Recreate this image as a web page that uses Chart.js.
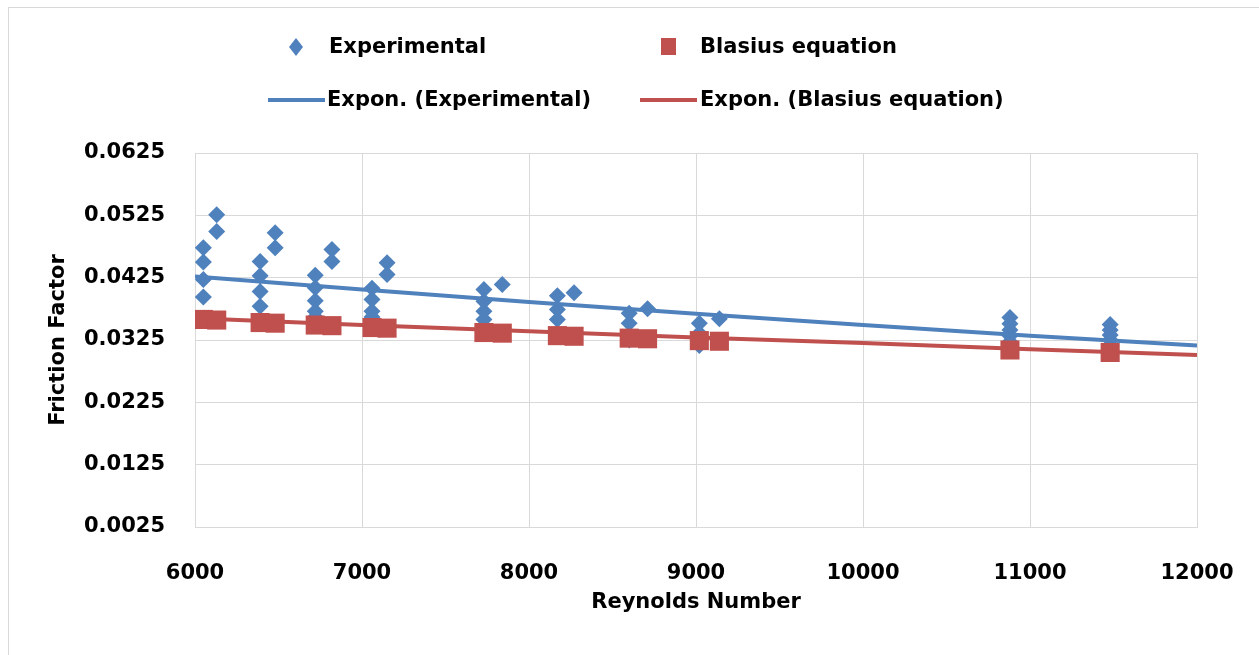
<!DOCTYPE html>
<html>
<head>
<meta charset="utf-8">
<script src="https://cdn.jsdelivr.net/npm/chart.js@4.4.1/dist/chart.umd.min.js"></script>
<style>
  html, body { margin: 0; padding: 0; background: #ffffff; }
  #wrap { position: relative; width: 1259px; height: 655px; overflow: hidden; background: #fff; }
  #frame { position: absolute; left: 8px; top: 7px; width: 1300px; height: 700px; border: 1px solid #d9d9d9; box-sizing: border-box; }
  #chartBox { position: absolute; left: 0; top: 0; width: 1259px; height: 655px; }
  .lg { position: absolute; font-family: "DejaVu Sans", sans-serif; font-weight: bold; font-size: 21px; color: #000; white-space: nowrap; line-height: 24px; }
  .mk { position: absolute; }
</style>
</head>
<body>
<div id="wrap">
  <div id="frame"></div>
  <div id="chartBox"><canvas id="c"></canvas></div>
  <div id="legend"></div>
</div>
<script>
// ---- Data ----
const expRe = [
  6050, 6050, 6050, 6050, 6130, 6130,
  6390, 6390, 6390, 6390, 6480, 6480,
  6720, 6720, 6720, 6720, 6720, 6820, 6820,
  7060, 7060, 7060, 7060, 7150, 7150,
  7730, 7730, 7730, 7730, 7840,
  8170, 8170, 8170, 8270,
  8600, 8600, 8600, 8710,
  9020, 9020, 9020, 9140,
  10880, 10880, 10880, 10880, 10880,
  11480, 11480, 11480, 11480, 11480
];
const expF = [
  0.0473, 0.0450, 0.0422, 0.0394, 0.0526, 0.0499,
  0.0451, 0.0428, 0.0403, 0.0379, 0.0497, 0.0473,
  0.0429, 0.0409, 0.0388, 0.0371, 0.0362, 0.0470, 0.0451,
  0.0408, 0.0390, 0.0371, 0.0362, 0.0449, 0.0430,
  0.0406, 0.0387, 0.0371, 0.0358, 0.0414,
  0.0396, 0.0374, 0.0358, 0.0401,
  0.0368, 0.0352, 0.0325, 0.0375,
  0.0352, 0.0336, 0.0316, 0.0359,
  0.0361, 0.0351, 0.0341, 0.0332, 0.0322,
  0.0350, 0.0341, 0.0333, 0.0325, 0.0316
];
const blasRe = [6050, 6130, 6390, 6480, 6720, 6820, 7060, 7150, 7730, 7840, 8170, 8270, 8600, 8710, 9020, 9140, 10880, 11480];
const blasF  = [0.0358, 0.0357, 0.0353, 0.0352, 0.0349, 0.0348, 0.0345, 0.0344, 0.0337, 0.0336, 0.0332, 0.0331, 0.0328, 0.0327, 0.0324, 0.0323, 0.0309, 0.0305];
const trendRe   = [6000, 7000, 8000, 9000, 10000, 11000, 12000];
const trendExpF = [0.0427, 0.0406, 0.0386, 0.0367, 0.0349, 0.0332, 0.0316];
const trendBlasF= [0.0360, 0.0349, 0.0339, 0.0329, 0.0320, 0.0310, 0.0301];
const xTickValues = [6000, 7000, 8000, 9000, 10000, 11000, 12000];
const xTickLabels = ['6000', '7000', '8000', '9000', '10000', '11000', '12000'];
const yTickValues = [0.0025, 0.0125, 0.0225, 0.0325, 0.0425, 0.0525, 0.0625];
const yTickLabels = ['0.0025', '0.0125', '0.0225', '0.0325', '0.0425', '0.0525', '0.0625'];
const seriesNames = ['Experimental', 'Blasius equation', 'Expon. (Experimental)', 'Expon. (Blasius equation)'];
const xTitle = 'Reynolds Number';
const yTitle = 'Friction Factor';

const BLUE = '#4F81BD';
const RED = '#C0504D';
const GRID = '#d9d9d9';
const FONT = { family: '"DejaVu Sans", sans-serif', size: 21, weight: 'bold' };

const pts = (xs, ys) => xs.map((x, i) => ({ x: x, y: ys[i] }));

const ctx = document.getElementById('c').getContext('2d');
const chart = new Chart(ctx, {
  type: 'scatter',
  data: {
    datasets: [
      { label: seriesNames[2], data: pts(trendRe, trendExpF), showLine: true, borderColor: BLUE, backgroundColor: BLUE,
        borderWidth: 4, pointRadius: 0, pointHoverRadius: 0, order: 0, tension: 0 },
      { label: seriesNames[3], data: pts(trendRe, trendBlasF), showLine: true, borderColor: RED, backgroundColor: RED,
        borderWidth: 4, pointRadius: 0, pointHoverRadius: 0, order: 1, tension: 0 },
      { label: seriesNames[1], data: pts(blasRe, blasF), pointStyle: 'rect', pointRadius: 13.5, pointHoverRadius: 13.5,
        backgroundColor: RED, borderColor: RED, borderWidth: 0, order: 2 },
      { label: seriesNames[0], data: pts(expRe, expF), pointStyle: 'rectRot', pointRadius: 8.5, pointHoverRadius: 8.5,
        backgroundColor: BLUE, borderColor: BLUE, borderWidth: 0, order: 3 }
    ]
  },
  options: {
    responsive: true,
    maintainAspectRatio: false,
    animation: false,
    events: [],
    layout: { padding: { left: 46, right: 62, top: 153, bottom: 0 } },
    plugins: { legend: { display: false }, tooltip: { enabled: false } },
    scales: {
      x: {
        type: 'linear', min: 6000, max: 12000,
        afterBuildTicks: (s) => { s.ticks = xTickValues.map(v => ({ value: v })); },
        afterFit: (s) => { s.height = 128; s.paddingLeft = 0; s.paddingRight = 0; },
        ticks: { color: '#000', font: FONT, padding: 34, maxRotation: 0,
                 callback: (v) => xTickLabels[xTickValues.indexOf(v)] },
        grid: { color: GRID, lineWidth: 1, drawTicks: false },
        border: { color: GRID, width: 1 },
        title: { display: true, text: xTitle, color: '#000', font: FONT, padding: { top: 0, bottom: 40 } }
      },
      y: {
        type: 'linear', min: 0.0025, max: 0.0625,
        afterBuildTicks: (s) => { s.ticks = yTickValues.map(v => ({ value: v })); },
        afterFit: (s) => { s.width = 149; },
        ticks: { color: '#000', font: FONT, padding: 30,
                 callback: (v) => yTickLabels[yTickValues.findIndex(t => Math.abs(t - v) < 1e-9)] },
        grid: { color: GRID, lineWidth: 1, drawTicks: false },
        border: { color: GRID, width: 1 },
        title: { display: true, text: yTitle, color: '#000', font: FONT, padding: { top: 0, bottom: 0 } }
      }
    }
  }
});

// ---- HTML legend built from the datasets ----
const legend = document.getElementById('legend');
const legendItems = [
  { name: seriesNames[0], kind: 'diamond', color: BLUE, mx: 296, tx: 329, y: 47 },
  { name: seriesNames[1], kind: 'square', color: RED, mx: 668, tx: 700, y: 47 },
  { name: seriesNames[2], kind: 'line', color: BLUE, mx: 296, tx: 327, y: 100 },
  { name: seriesNames[3], kind: 'line', color: RED, mx: 668, tx: 700, y: 100 }
];
legendItems.forEach(it => {
  const m = document.createElement('div');
  m.className = 'mk';
  if (it.kind === 'diamond') {
    m.style.cssText = `left:${it.mx - 7}px;top:${it.y - 9}px;width:14px;height:18px;background:${it.color};clip-path:polygon(50% 0,100% 50%,50% 100%,0 50%);`;
  } else if (it.kind === 'square') {
    m.style.cssText = `left:${it.mx - 7}px;top:${it.y - 9}px;width:15px;height:17px;background:${it.color};`;
  } else {
    m.style.cssText = `left:${it.mx - 28}px;top:${it.y - 2}px;width:57px;height:4px;background:${it.color};`;
  }
  legend.appendChild(m);
  const t = document.createElement('div');
  t.className = 'lg';
  t.textContent = it.name;
  t.style.left = it.tx + 'px';
  t.style.top = (it.y - 13) + 'px';
  legend.appendChild(t);
});
</script>
</body>
</html>
